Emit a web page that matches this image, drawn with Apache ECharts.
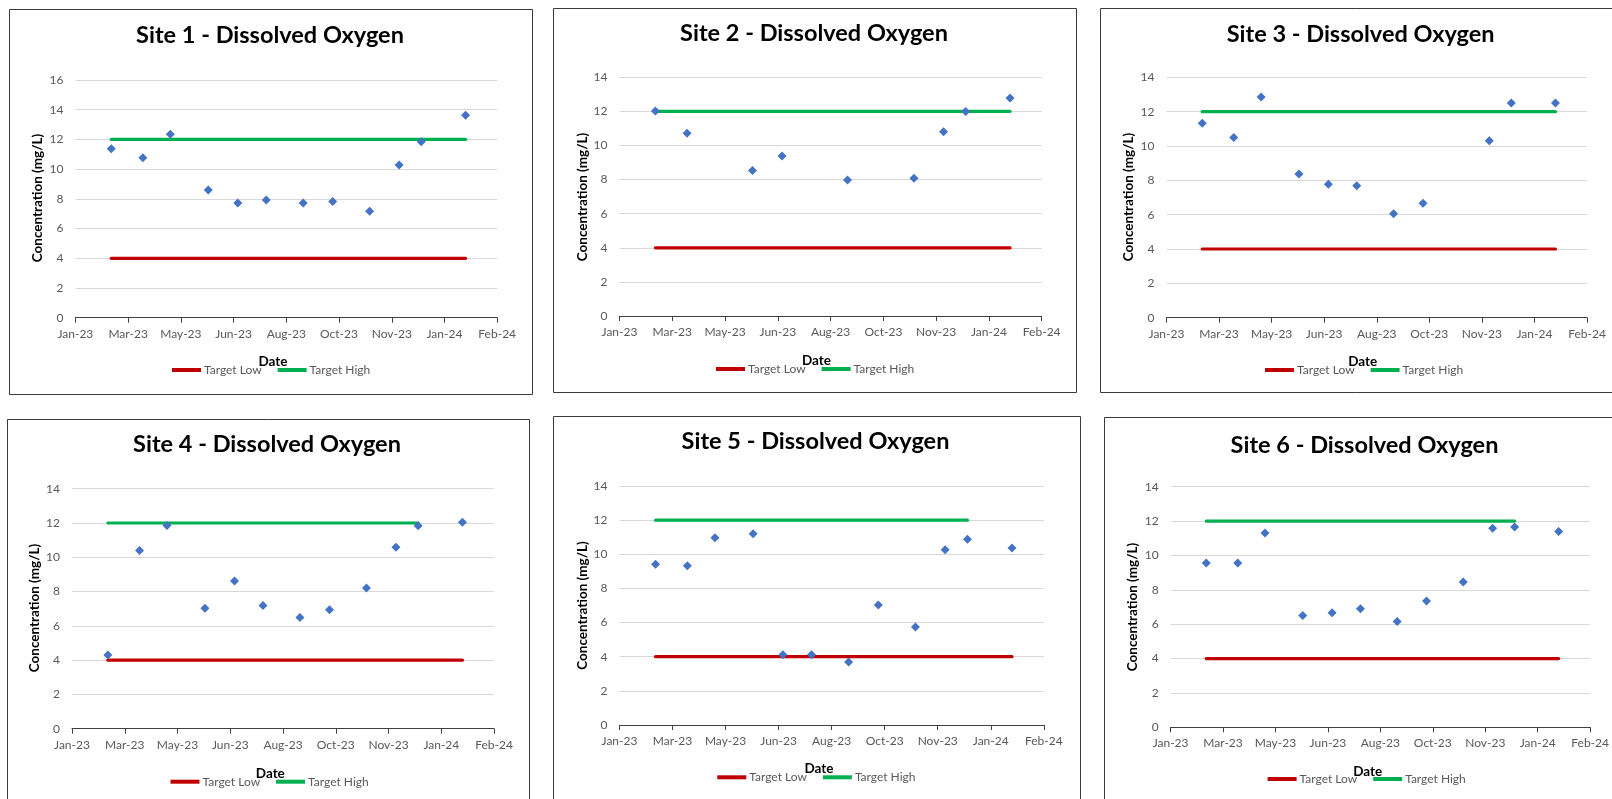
<!DOCTYPE html>
<html>
<head>
<meta charset="utf-8">
<script src="https://cdn.jsdelivr.net/npm/echarts@6/dist/echarts.min.js"></script>
<style>
html,body{margin:0;padding:0;background:#fff;}
#chart{width:1612px;height:799px;}
</style>
</head>
<body>
<div id="chart"></div>
<script>
// ---------------- DATA ----------------
const sampleDates = ['2023-02-27','2023-03-29','2023-04-24','2023-05-30','2023-06-27','2023-07-24','2023-08-28','2023-09-25','2023-10-30','2023-11-27','2023-12-18','2024-01-29'];
const siteNames = ['Site 1','Site 2','Site 3','Site 4','Site 5','Site 6'];
const site1DO = [11.38,10.77,12.34,8.59,7.72,7.92,7.72,7.83,7.16,10.28,11.85,13.62];
const site2DO = [12.03,10.72,null,8.53,9.39,null,7.98,null,8.08,10.81,11.99,12.79];
const site3DO = [11.32,10.49,12.85,8.37,7.77,7.69,6.06,6.66,null,10.31,12.50,12.50];
const site4DO = [4.30,10.40,11.86,7.02,8.61,7.19,6.49,6.94,8.21,10.58,11.84,12.04];
const site5DO = [9.41,9.33,10.97,11.21,4.12,4.12,3.69,7.03,5.74,10.27,10.88,10.37];
const site6DO = [9.56,9.56,11.31,6.50,6.67,6.90,6.15,7.35,8.45,11.58,11.65,11.40];
const targetLowValue = 4;
const targetHighValue = 12;
const targetLowStart = ['2023-02-27','2023-02-27','2023-02-27','2023-02-27','2023-02-27','2023-02-27'];
const targetLowEnd   = ['2024-01-29','2024-01-29','2024-01-29','2024-01-29','2024-01-29','2024-01-29'];
const targetHighStart= ['2023-02-27','2023-02-27','2023-02-27','2023-02-27','2023-02-27','2023-02-27'];
const targetHighEnd  = ['2024-01-29','2024-01-29','2024-01-29','2023-12-18','2023-12-18','2023-12-18'];
const yMaxBySite = [16,14,14,14,14,14];
const xAxisMin = '2023-01-24';
const xAxisMax = '2024-02-28';
const xTickDays = 50;
const yTickStep = 2;
const monthNames = ['Jan','Feb','Mar','Apr','May','Jun','Jul','Aug','Sep','Oct','Nov','Dec'];
// --------------------------------------

const allSiteDO = [site1DO, site2DO, site3DO, site4DO, site5DO, site6DO];
const EPOCH = Date.UTC(1899, 11, 30);
function serial(s){ const p = s.split('-').map(Number); return Math.round((Date.UTC(p[0], p[1]-1, p[2]) - EPOCH)/86400000); }
function fmtDate(v){ const d = new Date(EPOCH + v*86400000); return monthNames[d.getUTCMonth()] + '-' + String(d.getUTCFullYear()).slice(2); }

// layout per panel
const panels = [
  {box:[9.5,9.5,523,385],   grid:[75.4,80,421.8,237.7],   title:[270,35],     ytitle:[38,198],     xtitle:[273,362],   legend:[172,371]},
  {box:[553.5,8.5,523,384], grid:[619.5,77.3,422.2,238.7], title:[814,33],    ytitle:[582.4,197],  xtitle:[816.5,361], legend:[716,370]},
  {box:[1100.5,8.5,523,384],grid:[1166.5,77.3,420.5,240.4],title:[1360.6,34.7],ytitle:[1128.5,197],xtitle:[1362.7,362],legend:[1265,371]},
  {box:[7.5,419.5,522,386], grid:[72,488.7,422.1,240],     title:[267,444.3],  ytitle:[34.4,608],  xtitle:[270.3,773.3],legend:[170.5,782.7]},
  {box:[553.5,416.5,527,386],grid:[619.5,486,424.3,239],   title:[815.5,441.7],ytitle:[582.4,605.5],xtitle:[819,768.3],legend:[717.3,778.3]},
  {box:[1104.5,417.5,523,386],grid:[1170.6,486.7,421.1,240.6],title:[1364.5,445],ytitle:[1132.6,607],xtitle:[1367.7,771.7],legend:[1267.6,780]}
];

const FONT = 'Lato';
const grids = [], xAxes = [], yAxes = [], series = [], legends = [], graphics = [];

panels.forEach((p, i) => {
  graphics.push({type:'rect', shape:{x:p.box[0], y:p.box[1], width:p.box[2], height:p.box[3]},
    style:{fill:'#fff', stroke:'#3a3a3a', lineWidth:1}, z:-10, silent:true});
  graphics.push({type:'text', x:p.title[0], y:p.title[1], style:{text: siteNames[i] + ' - Dissolved Oxygen',
    font:'bold 23.5px ' + FONT, fill:'#000', textAlign:'center', textVerticalAlign:'middle'}});
  graphics.push({type:'text', x:p.ytitle[0], y:p.ytitle[1], rotation:Math.PI/2, style:{text:'Concentration (mg/L)',
    font:'bold 13.5px ' + FONT, fill:'#000', textAlign:'center', textVerticalAlign:'middle'}});
  graphics.push({type:'text', x:p.xtitle[0], y:p.xtitle[1], style:{text:'Date',
    font:'bold 13.5px ' + FONT, fill:'#000', textAlign:'center', textVerticalAlign:'middle'}});

  grids.push({left:p.grid[0], top:p.grid[1], width:p.grid[2], height:p.grid[3], containLabel:false});
  xAxes.push({type:'value', gridIndex:i, min:serial(xAxisMin), max:serial(xAxisMax), interval:xTickDays,
    axisLine:{show:true, onZero:false, lineStyle:{color:'#404040', width:1}},
    axisTick:{show:true, inside:false, length:5, lineStyle:{color:'#404040'}},
    splitLine:{show:false},
    axisLabel:{formatter:fmtDate, color:'#595959', fontFamily:FONT, fontSize:12, margin:10}});
  yAxes.push({type:'value', gridIndex:i, min:0, max:yMaxBySite[i], interval:yTickStep,
    axisLine:{show:false}, axisTick:{show:false},
    splitLine:{show:true, lineStyle:{color:'#d9d9d9', width:1}},
    axisLabel:{color:'#595959', fontFamily:FONT, fontSize:12, margin:12}});

  series.push({name:'Target Low', type:'line', xAxisIndex:i, yAxisIndex:i, symbol:'none',
    data:[[serial(targetLowStart[i]), targetLowValue],[serial(targetLowEnd[i]), targetLowValue]],
    lineStyle:{color:'#C00000', width:3.2, cap:'round'}, itemStyle:{color:'#C00000'}, z:2, silent:true});
  series.push({name:'Target High', type:'line', xAxisIndex:i, yAxisIndex:i, symbol:'none',
    data:[[serial(targetHighStart[i]), targetHighValue],[serial(targetHighEnd[i]), targetHighValue]],
    lineStyle:{color:'#00B050', width:3.2, cap:'round'}, itemStyle:{color:'#00B050'}, z:2, silent:true});
  series.push({name:'DO', type:'scatter', xAxisIndex:i, yAxisIndex:i, symbol:'diamond', symbolSize:9,
    data: sampleDates.map((d, k) => [serial(d), allSiteDO[i][k]]).filter(q => q[1] !== null),
    itemStyle:{color:'#4472C4', opacity:1}, z:3, silent:true});

  legends.push({data:[{name:'Target Low', icon:'rect'},{name:'Target High', icon:'rect'}],
    left:p.legend[0], top:p.legend[1]-7, padding:0, itemWidth:29, itemHeight:4, itemGap:16,
    selectedMode:false, textStyle:{color:'#595959', fontFamily:FONT, fontSize:12, padding:[0,0,0,-2]}});
});

const chart = echarts.init(document.getElementById('chart'), null, {renderer:'canvas'});
chart.setOption({
  animation:false,
  backgroundColor:'#fff',
  grid:grids, xAxis:xAxes, yAxis:yAxes, series:series, legend:legends,
  graphic:{elements:graphics}
});
</script>
</body>
</html>
